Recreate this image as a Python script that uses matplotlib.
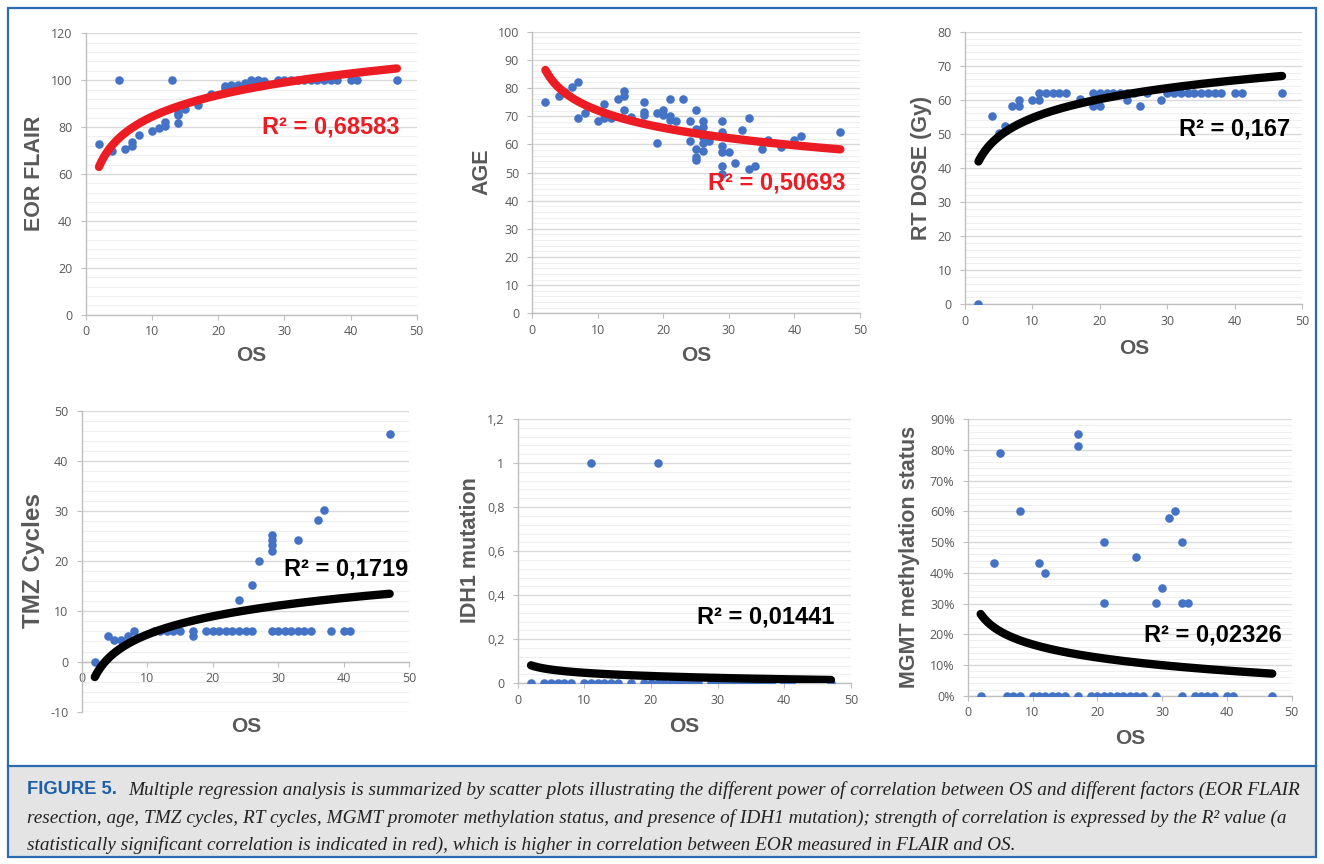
import numpy as np
import matplotlib
matplotlib.use('Agg')
import matplotlib.pyplot as plt
from matplotlib.ticker import MultipleLocator, FuncFormatter, PercentFormatter
from matplotlib.patches import Rectangle

W, H = 1324, 864

# ---- data ----
eor_os = [2, 4, 5, 6, 7, 7, 8, 10, 11, 12, 12, 13, 14, 14, 14, 15, 17, 19, 21, 21,
          22, 23, 24, 25, 25, 26, 27, 29, 30, 31, 32, 33, 34, 35, 36, 37, 38, 40, 41, 47]
eor_val = [73, 70, 100, 70.5, 73.5, 72, 76.6, 78.5, 79.5, 82, 80.5, 100, 86, 85, 81.7, 87.8,
           89.5, 94, 97.5, 96.5, 97.8, 98, 98.7, 100, 98.7, 100, 99.5, 100, 100, 100,
           100, 100, 100, 100, 100, 100, 100, 100, 100, 100]

age_os = [2, 4, 5, 6, 7, 7, 8, 10, 11, 11, 12, 13, 14, 14, 14, 15, 17, 17, 17, 19, 19,
          20, 20, 21, 21, 21, 22, 23, 24, 24, 25, 25, 25, 25, 25, 26, 26, 26, 26, 26, 27,
          29, 29, 29, 29, 29, 29, 30, 31, 32, 33, 33, 34, 35, 36, 38, 40, 41, 47]
age_val = [75, 77.2, 78.5, 80.3, 82.1, 69.3, 71.2, 68.3, 74.2, 69.2, 69.2, 76.2, 79.1, 77.2,
           72.2, 69.7, 75.1, 71.5, 70.4, 71.2, 60.4, 72.2, 70.4, 76.2, 70.2, 68.6, 68.3,
           76.2, 68.3, 61.3, 72.2, 65.5, 58.2, 55.4, 54.4, 68.3, 66.3, 62.5, 60.5, 57.5,
           61.3, 68.3, 64.5, 59.4, 57.4, 52.4, 49.5, 57.4, 53.3, 65.2, 69.2, 51.3, 52.4,
           58.2, 61.4, 59.1, 61.4, 63.1, 64.3]

rt_os = [2, 4, 5, 6, 7, 8, 8, 10, 11, 11, 12, 13, 14, 15, 17, 19, 19, 20, 20, 21, 22, 23,
         24, 24, 25, 26, 27, 29, 30, 31, 32, 33, 34, 35, 36, 37, 38, 40, 41, 47]
rt_val = [0, 55.2, 50.4, 52.4, 58.2, 60.1, 58.2, 60.1, 62, 60.1, 62, 62, 62, 62, 60.3, 62,
          58.2, 62, 58.2, 62, 62, 62, 62, 60.1, 62, 58.2, 62, 60.1, 62, 62, 62, 62, 62,
          62, 62, 62, 62, 62, 62, 62]

tmz_os = [2, 4, 5, 6, 7, 8, 11, 12, 13, 14, 15, 17, 17, 19, 20, 21, 22, 23, 24, 24, 25,
          26, 26, 27, 29, 29, 29, 29, 29, 30, 31, 32, 33, 33, 34, 35, 36, 37, 38, 40, 41, 47]
tmz_val = [0, 5.1, 4.2, 4.2, 5.1, 6.1, 6, 6, 6, 6, 6, 6, 5.1, 6, 6, 6, 6, 6, 6, 12.2, 6,
           6, 15.3, 20.1, 6, 22.1, 23.3, 24.3, 25.2, 6, 6, 6, 6, 24.2, 6, 6, 28.2, 30.2,
           6, 6, 6, 45.3]

idh_os = [2, 4, 5, 6, 7, 8, 10, 11, 11, 12, 13, 14, 15, 17, 19, 20, 21, 21, 22, 23, 24,
          25, 26, 27, 29, 30, 31, 32, 33, 34, 35, 36, 37, 38, 40, 41, 47]
idh_val = [0, 0, 0, 0, 0, 0, 0, 0, 1, 0, 0, 0, 0, 0, 0, 0, 0, 1, 0, 0, 0,
           0, 0, 0, 0, 0, 0, 0, 0, 0, 0, 0, 0, 0, 0, 0, 0]

mgmt_os = [2, 4, 5, 6, 7, 8, 8, 10, 11, 11, 12, 12, 13, 14, 15, 17, 17, 17, 19, 20, 21,
           21, 21, 22, 23, 24, 25, 26, 26, 27, 29, 29, 30, 31, 32, 33, 33, 33, 34, 35,
           36, 37, 38, 40, 41, 47]
mgmt_val = [0, 0.432, 0.791, 0, 0, 0.603, 0, 0, 0.432, 0, 0.401, 0, 0, 0, 0, 0.852, 0.813,
            0, 0, 0, 0.502, 0.302, 0, 0, 0, 0, 0, 0.453, 0, 0, 0.302, 0, 0.352, 0.578,
            0.603, 0.502, 0.302, 0, 0.302, 0, 0, 0, 0, 0, 0, 0]

# logarithmic trendlines y = a*ln(x) + b, coefficients
eor_trend = [13.3, 53.8]
age_trend = [-8.93, 92.6]
rt_trend = [7.95, 36.4]
tmz_trend = [5.26, -6.74]
idh_trend = [-0.0211, 0.0963]
mgmt_trend = [-0.0615, 0.3086]

r2_labels = ['R² = 0,68583', 'R² = 0,50693', 'R² = 0,167',
             'R² = 0,1719', 'R² = 0,01441', 'R² = 0,02326']

caption_lines = [
    'Multiple regression analysis is summarized by scatter plots illustrating the different '
    'power of correlation between OS and different factors (EOR FLAIR',
    'resection, age, TMZ cycles, RT cycles, MGMT promoter methylation status, and presence of '
    'IDH1 mutation); strength of correlation is expressed by the R² value (a',
    'statistically significant correlation is indicated in red), which is higher in '
    'correlation between EOR measured in FLAIR and OS.',
]

DOT = '#4472C4'
RED = '#EC1C24'
GRAY_TXT = '#595959'

plt.rcParams['axes.unicode_minus'] = False


def box(left, top, right, bottom):
    """pixel box -> figure fraction rect"""
    return [left / W, 1 - bottom / H, (right - left) / W, (bottom - top) / H]


def comma_fmt(v, _):
    return f"{v:g}".replace('.', ',')


def draw_panel(ax, xs, ys, trend, ylim, ystep, r2, r2_pos, trend_color):
    ax.set_xlim(0, 50)
    ax.set_ylim(*ylim)
    ax.xaxis.set_major_locator(MultipleLocator(10))
    ax.yaxis.set_major_locator(MultipleLocator(ystep))
    ax.yaxis.set_minor_locator(MultipleLocator(ystep / 5))
    ax.grid(which='major', axis='y', color='#D9D9D9', lw=1.0, zorder=0)
    ax.grid(which='minor', axis='y', color='#EFEFEF', lw=0.8, zorder=0)
    ax.set_axisbelow(True)
    for s in ['top', 'right']:
        ax.spines[s].set_visible(False)
    for s in ['left', 'bottom']:
        ax.spines[s].set_color('#BFBFBF')
        ax.spines[s].set_linewidth(1.0)
    ax.tick_params(which='major', length=3.5, color='#BFBFBF', labelcolor=GRAY_TXT,
                   labelsize=9)
    ax.tick_params(axis='x', pad=4)
    ax.tick_params(axis='y', pad=6)
    ax.tick_params(which='minor', length=0)

    ax.scatter(xs, ys, s=38, color=DOT, zorder=3, linewidths=0)
    xt = np.linspace(min(xs), max(xs), 200)
    ax.plot(xt, trend[0] * np.log(xt) + trend[1], color=trend_color, lw=6,
            solid_capstyle='round', zorder=4)
    ax.text(r2_pos[0], r2_pos[1], r2, ha='center', va='center', fontsize=17,
            fontweight='bold', family='Liberation Sans', color=trend_color, zorder=5)


fig = plt.figure(figsize=(W / 100, H / 100), dpi=100)

ax1 = fig.add_axes(box(85.7, 33.3, 416.7, 314.7))
draw_panel(ax1, eor_os, eor_val, eor_trend, (0, 120), 20, r2_labels[0], (37, 80), RED)

ax2 = fig.add_axes(box(532.3, 31.7, 860, 313.3))
draw_panel(ax2, age_os, age_val, age_trend, (0, 100), 10, r2_labels[1], (37.3, 46.4), RED)

ax3 = fig.add_axes(box(965, 31.7, 1302.3, 304.3))
draw_panel(ax3, rt_os, rt_val, rt_trend, (0, 80), 10, r2_labels[2], (39.9, 51.4), 'black')

ax4 = fig.add_axes(box(81.7, 410.7, 409.3, 711.7))
draw_panel(ax4, tmz_os, tmz_val, tmz_trend, (-10, 50), 10, r2_labels[3], (40.4, 18.4), 'black')
ax4.spines['bottom'].set_position(('data', 0))

ax5 = fig.add_axes(box(517.7, 419, 851, 683.3))
draw_panel(ax5, idh_os, idh_val, idh_trend, (0, 1.2), 0.2, r2_labels[4], (37.2, 0.3), 'black')
ax5.yaxis.set_major_formatter(FuncFormatter(comma_fmt))

ax6 = fig.add_axes(box(967.7, 419.3, 1291.7, 695.7))
draw_panel(ax6, mgmt_os, mgmt_val, mgmt_trend, (0, 0.9), 0.1, r2_labels[5], (37.9, 0.199), 'black')
ax6.yaxis.set_major_formatter(PercentFormatter(1.0, decimals=0))

for ax in [ax1, ax2, ax3, ax4, ax5, ax6]:
    for lab in ax.get_xticklabels() + ax.get_yticklabels():
        lab.set_fontfamily('Open Sans')

# axis titles, positioned in pixels
label_kw = dict(fontweight='bold', family='Liberation Sans', color=GRAY_TXT, ha='center', va='center')
ylabels = [('EOR FLAIR', 35, 173, 15.5), ('AGE', 481.7, 171.7, 15.5), ('RT DOSE (Gy)', 921.7, 168, 15.5),
           ('TMZ Cycles', 33.3, 560, 17.5), ('IDH1 mutation', 470, 550, 15.5),
           ('MGMT methylation status', 909, 556.7, 15.5)]
for txt, x, y, fs in ylabels:
    fig.text(x / W, 1 - y / H, txt, rotation=90, fontsize=fs, **label_kw)

for x, y in [(251, 356), (696, 356), (1134, 348), (246, 727), (684, 727), (1130, 738)]:
    fig.text(x / W, 1 - y / H, 'OS', fontsize=15, **label_kw)

# caption box and outer border
fig.patches.append(Rectangle((8 / W, 1 - 857 / H), 1308 / W, 91 / H, transform=fig.transFigure,
                             facecolor='#E4E4E4', edgecolor='none', zorder=0))
fig.patches.append(Rectangle((8 / W, 1 - 857 / H), 1308 / W, 849 / H, transform=fig.transFigure,
                             facecolor='none', edgecolor='#2C6AB1', lw=1.6, zorder=1))
fig.add_artist(plt.Line2D([8 / W, 1316 / W], [1 - 766 / H, 1 - 766 / H], color='#2C6AB1', lw=1.6))

fig.text(27 / W, 1 - 790 / H, 'FIGURE 5.', fontsize=13.2, fontweight='bold',
         family='Liberation Sans', color='#1D5FA8', va='center')
cap_kw = dict(fontsize=13.9, style='italic', family='Liberation Serif', color='#222222', va='center')
fig.text(128 / W, 1 - 790 / H, caption_lines[0], **cap_kw)
fig.text(27 / W, 1 - 818 / H, caption_lines[1], **cap_kw)
fig.text(27 / W, 1 - 845 / H, caption_lines[2], **cap_kw)

fig.savefig('out.png', dpi=100)
